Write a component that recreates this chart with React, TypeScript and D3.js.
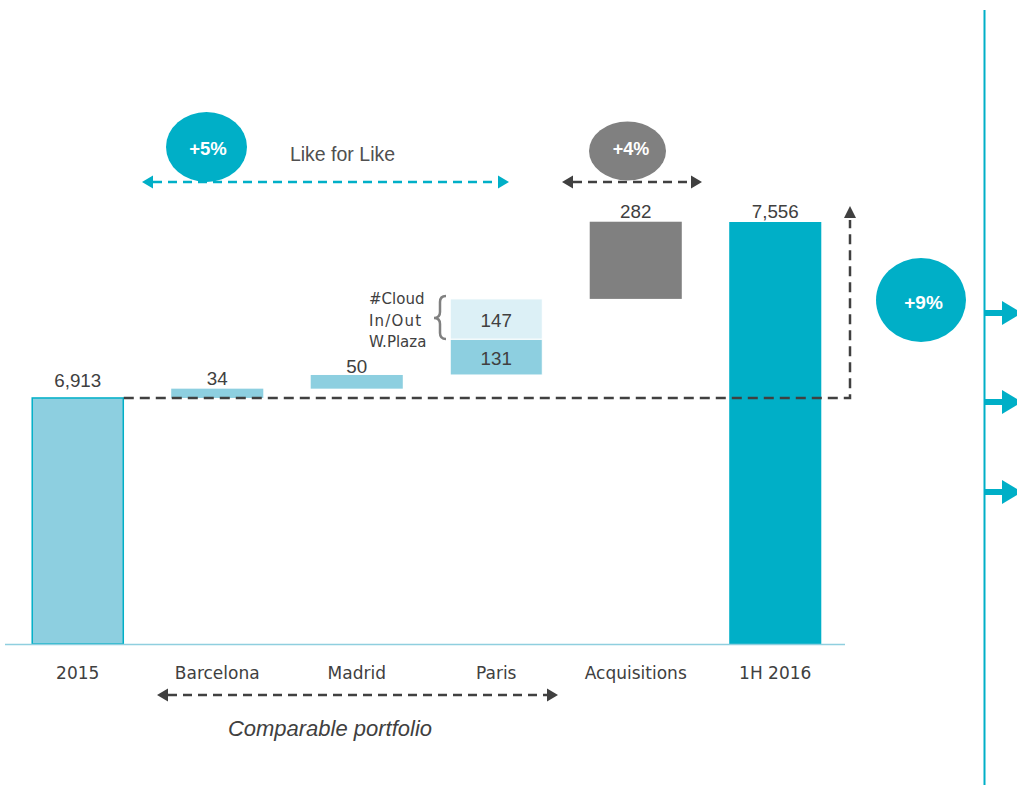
import React from "react";
import * as d3 from "d3";

const categories = ["2015", "Barcelona", "Madrid", "Paris", "Acquisitions", "1H 2016"];
const startValue = 6913;
const endValue = 7556;
const barcelona = 34;
const madrid = 50;
const parisParts = [131, 147];
const parisPartNames = ["#Cloud", "In/Out", "W.Plaza"];
const acquisitions = 282;
const axisMin = 6014;

const W = 1017;
const H = 785;

const x = d3.scaleBand<string>().domain(categories).range([8, 845]).paddingInner(0.34).paddingOuter(0.17);
const y = d3.scaleLinear().domain([axisMin, endValue]).range([644, 222]);

const LIGHT = "#8dcfe0";
const PALE = "#dcf0f6";
const TEAL = "#00afc7";
const GRAY = "#808080";
const DARK = "#404040";
const ARIAL = "Liberation Sans, Arial, sans-serif";
const DEJA = "DejaVu Sans, Verdana, sans-serif";

type Seg = { cat: string; lo: number; hi: number; fill: string; stroke?: string; label: string; inside?: boolean; gap?: number };

function buildSegments(): Seg[] {
  const segs: Seg[] = [];
  let cum = startValue;
  segs.push({ cat: "2015", lo: axisMin, hi: startValue, fill: LIGHT, stroke: TEAL, label: d3.format(",")(startValue), gap: 11 });
  segs.push({ cat: "Barcelona", lo: cum, hi: cum + barcelona, fill: LIGHT, label: String(barcelona), gap: 4 });
  cum += barcelona;
  segs.push({ cat: "Madrid", lo: cum, hi: cum + madrid, fill: LIGHT, label: String(madrid), gap: 1.5 });
  cum += madrid;
  segs.push({ cat: "Paris", lo: cum, hi: cum + parisParts[0], fill: LIGHT, label: String(parisParts[0]), inside: true });
  cum += parisParts[0];
  segs.push({ cat: "Paris", lo: cum, hi: cum + parisParts[1], fill: PALE, label: String(parisParts[1]), inside: true });
  cum += parisParts[1];
  segs.push({ cat: "Acquisitions", lo: cum, hi: cum + acquisitions, fill: GRAY, label: String(acquisitions), gap: 4 });
  segs.push({ cat: "1H 2016", lo: axisMin, hi: endValue, fill: TEAL, label: d3.format(",")(endValue), gap: 4 });
  return segs;
}

function DashArrow({ x1, x2, yy, color, width = 2.5, dash = "9,6" }: { x1: number; x2: number; yy: number; color: string; width?: number; dash?: string }) {
  const h = 6.5;
  const l = 11;
  return (
    <g>
      <line x1={x1 + l} x2={x2 - l} y1={yy} y2={yy} stroke={color} strokeWidth={width} strokeDasharray={dash} />
      <path d={`M${x1},${yy} L${x1 + l},${yy - h} L${x1 + l},${yy + h} Z`} fill={color} />
      <path d={`M${x2},${yy} L${x2 - l},${yy - h} L${x2 - l},${yy + h} Z`} fill={color} />
    </g>
  );
}

function RightArrow({ yy }: { yy: number }) {
  return (
    <g>
      <rect x={985} y={yy - 3} width={20} height={6} fill={TEAL} />
      <path d={`M1002,${yy - 12} L1022,${yy} L1002,${yy + 12} Z`} fill={TEAL} />
    </g>
  );
}

export default function App() {
  const segs = buildSegments();
  const bw = x.bandwidth();
  const x2015R = (x("2015") as number) + bw;
  const yStart = y(startValue);
  const xEnd = 850;
  return (
    <svg width={W} height={H} style={{ position: "absolute", left: 0, top: 0, background: "#fff" }}>
      <rect width={W} height={H} fill="#fff" />
      {/* bars */}
      {segs.map((s, i) => (
        <rect
          key={i}
          x={(x(s.cat) as number) + (s.stroke ? 0.5 : 0)}
          y={y(s.hi)}
          width={bw - (s.stroke ? 1 : 0)}
          height={y(s.lo) - y(s.hi)}
          fill={s.fill}
          stroke={s.stroke || (s.cat === "Paris" ? "#ffffff" : "none")}
          strokeWidth={s.stroke ? 1.5 : 1}
        />
      ))}
      {/* value labels */}
      {segs.map((s, i) => {
        const cx = (x(s.cat) as number) + bw / 2;
        const ty = s.inside ? (y(s.hi) + y(s.lo)) / 2 + 8 : y(s.hi) - (s.gap || 4);
        return (
          <text key={"l" + i} x={cx} y={ty} textAnchor="middle" fontFamily={ARIAL} fontSize={18.8} fill={DARK}>
            {s.label}
          </text>
        );
      })}
      {/* axis line */}
      <line x1={5} x2={845} y1={644.5} y2={644.5} stroke="#8fcfdf" strokeWidth={1.5} />
      {/* category labels */}
      {categories.map((c) => (
        <text key={c} x={(x(c) as number) + bw / 2} y={679} textAnchor="middle" fontFamily={DEJA} fontSize={17} fill={DARK}>
          {c}
        </text>
      ))}
      {/* dashed reference line and up arrow */}
      <path d={`M${x2015R},${yStart} L${xEnd},${yStart} L${xEnd},${y(endValue) - 2}`} fill="none" stroke={DARK} strokeWidth={2.5} strokeDasharray="10,6" />
      <path d={`M${xEnd},${y(endValue) - 16} L${xEnd - 6},${y(endValue) - 4} L${xEnd + 6},${y(endValue) - 4} Z`} fill={DARK} />

      {/* Paris bracket */}
      <path d="M446,296 Q440,296 440,302 L440,312 Q440,318 434,318 Q440,318 440,324 L440,333 Q440,339 446,339" fill="none" stroke={GRAY} strokeWidth={2.5} />
      {parisPartNames.map((n, i) => (
        <text key={n} x={369} y={304 + i * 21.5} textAnchor="start" fontFamily={DEJA} fontSize={15} fill={DARK} letterSpacing={i === 1 ? 1.2 : 0}>
          {n}
        </text>
      ))}

      {/* Like for like */}
      <DashArrow x1={142} x2={509} yy={182} color={TEAL} />
      <ellipse cx={206.5} cy={147} rx={40.5} ry={35} fill={TEAL} />
      <text x={208} y={155} textAnchor="middle" fontFamily={ARIAL} fontWeight="bold" fontSize={18.5} fill="#fff">+5%</text>
      <text x={342.5} y={161} textAnchor="middle" fontFamily={ARIAL} fontSize={19.5} fill="#505050">Like for Like</text>

      {/* Acquisitions */}
      <DashArrow x1={562} x2={702} yy={182} color={DARK} />
      <ellipse cx={627.5} cy={151} rx={38.5} ry={29.5} fill={GRAY} />
      <text x={631} y={155} textAnchor="middle" fontFamily={ARIAL} fontWeight="bold" fontSize={18} fill="#fff">+4%</text>

      {/* +9% */}
      <ellipse cx={921} cy={300} rx={45} ry={42} fill={TEAL} />
      <text x={923.5} y={309} textAnchor="middle" fontFamily={ARIAL} fontWeight="bold" fontSize={19} fill="#fff">+9%</text>

      {/* right vertical line with arrows */}
      <line x1={984.5} x2={984.5} y1={10} y2={785} stroke={TEAL} strokeWidth={2} />
      {[313, 402, 492].map((yy) => (
        <RightArrow key={yy} yy={yy} />
      ))}

      {/* Comparable portfolio */}
      <DashArrow x1={157} x2={558} yy={695} color={DARK} />
      <text x={330} y={736} textAnchor="middle" fontFamily={ARIAL} fontStyle="italic" fontSize={22} fill={DARK}>Comparable portfolio</text>
    </svg>
  );
}
